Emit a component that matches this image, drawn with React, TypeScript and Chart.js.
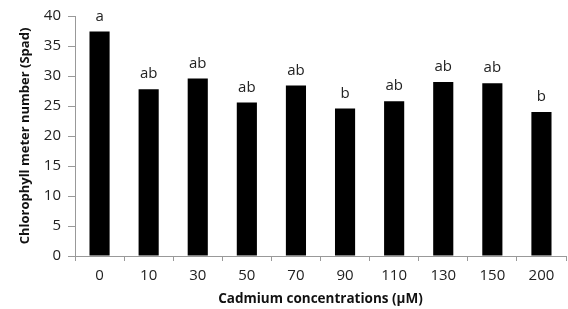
import React, { useEffect, useRef } from "react";
import { Chart, registerables } from "chart.js";

Chart.register(...registerables);

const categories = ["0", "10", "30", "50", "70", "90", "110", "130", "150", "200"];
const chlorophyll = [37.4, 27.8, 29.6, 25.6, 28.4, 24.6, 25.8, 29.0, 28.8, 24.0];
const letters = ["a", "ab", "ab", "ab", "ab", "b", "ab", "ab", "ab", "b"];
const yTicks = [0, 5, 10, 15, 20, 25, 30, 35, 40];

const FONT = "'Open Sans', 'DejaVu Sans', sans-serif";

const letterPlugin = {
  id: "letters",
  afterDatasetsDraw(chart: any) {
    const ctx = chart.ctx;
    const meta = chart.getDatasetMeta(0);
    ctx.save();
    ctx.font = `15px ${FONT}`;
    ctx.fillStyle = "#222";
    ctx.textAlign = "center";
    ctx.textBaseline = "middle";
    meta.data.forEach((bar: any, i: number) => {
      ctx.fillText(letters[i], bar.x, bar.y - 15);
    });
    ctx.restore();
  },
};

export default function App() {
  const ref = useRef<HTMLCanvasElement>(null);
  useEffect(() => {
    document.body.style.margin = "0";
    const chart = new Chart(ref.current!, {
      type: "bar",
      data: {
        labels: categories,
        datasets: [
          {
            data: chlorophyll,
            backgroundColor: "#000",
            borderColor: "#000",
            barPercentage: 0.82,
            categoryPercentage: 0.5,
          },
        ],
      },
      options: {
        animation: false,
        responsive: false,
        maintainAspectRatio: false,
        layout: { padding: { left: 0, right: 2, top: 16, bottom: 0 } },
        plugins: { legend: { display: false }, tooltip: { enabled: false } },
        scales: {
          x: {
            grid: {
              display: true,
              offset: true,
              drawOnChartArea: false,
              drawTicks: true,
              tickLength: 5,
              color: "#999",
            },
            border: { display: true, color: "#999", width: 1 },
            ticks: { color: "#222", font: { family: FONT, size: 15 }, padding: 6 },
            title: {
              display: true,
              text: "Cadmium concentrations (µM)",
              color: "#111",
              font: { family: FONT, size: 13.5, weight: "bold" },
              padding: { top: 0, bottom: 2 },
            },
            afterFit(scale: any) {
              scale.height = 53;
            },
          },
          y: {
            min: 0,
            max: 40,
            afterBuildTicks(scale: any) {
              scale.ticks = yTicks.map((v) => ({ value: v }));
            },
            grid: {
              display: true,
              drawOnChartArea: false,
              drawTicks: true,
              tickLength: 7,
              color: "#999",
            },
            border: { display: true, color: "#999", width: 1 },
            ticks: { color: "#222", font: { family: FONT, size: 15 }, padding: 7 },
            title: {
              display: true,
              text: "Chlorophyll meter number (Spad)",
              color: "#111",
              font: { family: FONT, size: 13, weight: "bold" },
              padding: { top: 17, bottom: 0 },
            },
            afterFit(scale: any) {
              scale.width = 75;
            },
          },
        },
      },
      plugins: [letterPlugin],
    });
    return () => chart.destroy();
  }, []);
  return <canvas ref={ref} width={568} height={309} style={{ display: "block" }} />;
}
